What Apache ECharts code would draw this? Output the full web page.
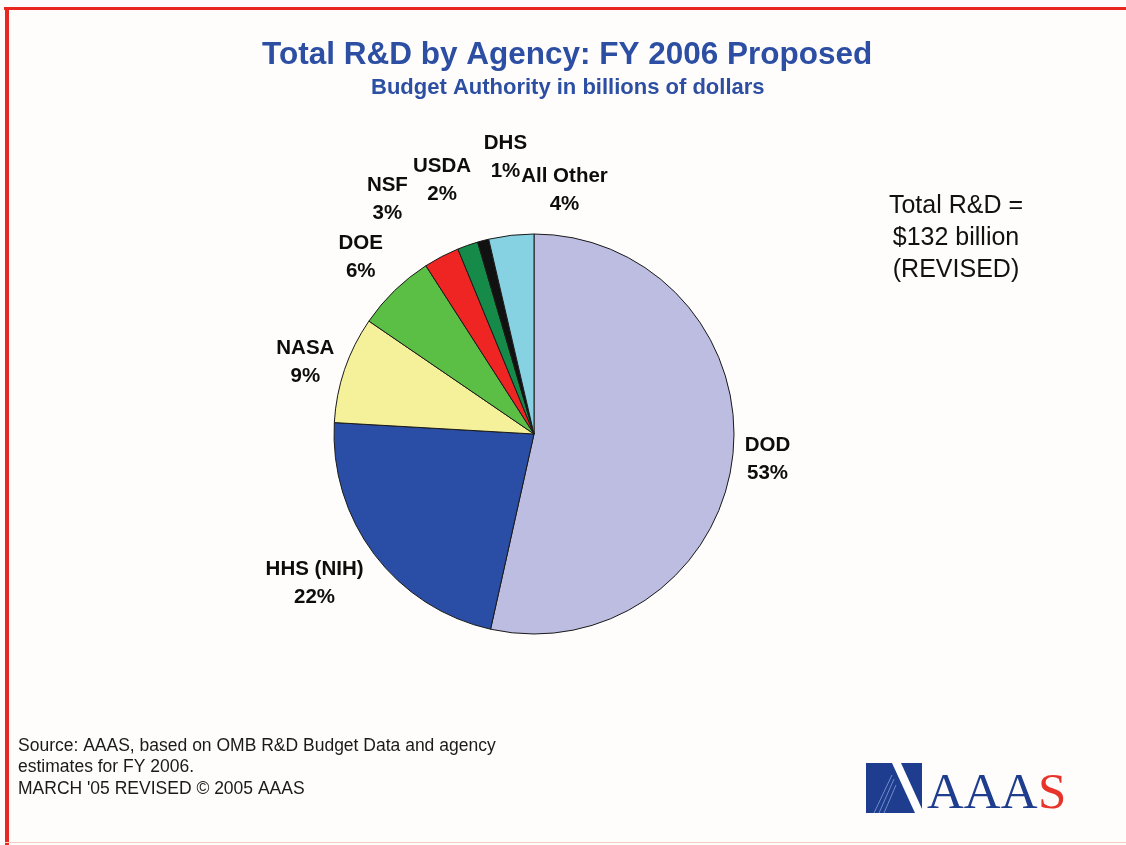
<!DOCTYPE html>
<html>
<head>
<meta charset="utf-8">
<script src="https://cdn.jsdelivr.net/npm/echarts@6/dist/echarts.min.js"></script>
<style>
  html, body { margin: 0; padding: 0; background: #fffdfb; }
  #chart { width: 1126px; height: 845px; }
</style>
</head>
<body>
<div id="chart"></div>
<script>
// ---- data (billions of dollars, FY 2006 proposed) ----
const agencies = ['DOD', 'HHS (NIH)', 'NASA', 'DOE', 'NSF', 'USDA', 'DHS', 'All Other'];
const budgets  = [70.6, 29.6, 11.4, 8.4, 3.8, 2.2, 1.2, 4.8];
const sliceColors = ['#bcbde0', '#2a4ea5', '#f5f09a', '#5bbf46', '#ee2522', '#168a48', '#111111', '#86d2e2'];
// label nudges (px) away from the default label ring position
const labelNudges = [[-15, -2], [-20, -1], [8, 9], [1, 3], [-31, -13], [-9, -18], [35, -35], [59, 5]];
const titleText = 'Total R&D by Agency: FY 2006 Proposed';
const subtitleText = 'Budget Authority in billions of dollars';
const totalNote = ['Total R&D =', '$132 billion', '(REVISED)'];
const sourceNote = ['Source: AAAS, based on OMB R&D Budget Data and agency', 'estimates for FY 2006.', "MARCH '05 REVISED \u00A9 2005 AAAS"];

const total = budgets.reduce((a, b) => a + b, 0);
const FONT = 'Arial, "Liberation Sans", sans-serif';
const SERIF = '"Liberation Serif", "Times New Roman", serif';

const chart = echarts.init(document.getElementById('chart'), null, { renderer: 'canvas' });

const pieData = agencies.map((name, i) => ({
  name, value: budgets[i], itemStyle: { color: sliceColors[i] }
}));

// label anchors: mid-angle of each slice in data units, placed on an outer ring via polar axes
let acc = 0;
const labelPoints = agencies.map((name, i) => {
  const mid = acc + budgets[i] / 2;
  acc += budgets[i];
  return {
    name,
    value: [1, mid],
    label: { offset: labelNudges[i] },
    pct: Math.round(budgets[i] / total * 100)
  };
});

const option = {
  backgroundColor: '#fffdfb',
  animation: false,
  title: [
    {
      text: titleText,
      left: 257,
      top: 34,
      textStyle: { fontFamily: FONT, fontWeight: 'bold', fontSize: 31.5, color: '#2c4ea3' }
    },
    {
      text: subtitleText,
      left: 366,
      top: 72,
      textStyle: { fontFamily: FONT, fontWeight: 'bold', fontSize: 22, color: '#2c4ea3' }
    }
  ],
  polar: { center: [534, 434], radius: 250 },
  angleAxis: { type: 'value', min: 0, max: total, startAngle: 90, clockwise: true, show: false },
  radiusAxis: { type: 'value', min: 0, max: 1, show: false },
  series: [
    {
      type: 'pie',
      center: [534, 434],
      radius: 200,
      startAngle: 90,
      clockwise: true,
      silent: true,
      label: { show: false },
      labelLine: { show: false },
      itemStyle: { borderColor: '#1a1a1a', borderWidth: 1 },
      data: pieData
    },
    {
      type: 'scatter',
      coordinateSystem: 'polar',
      silent: true,
      clip: false,
      symbolSize: 1,
      itemStyle: { color: 'rgba(0,0,0,0)', opacity: 1 },
      label: {
        show: true,
        position: 'inside',
        fontFamily: FONT,
        fontWeight: 'bold',
        fontSize: 20.5,
        lineHeight: 28,
        color: '#0d0d0d',
        opacity: 1,
        align: 'center',
        verticalAlign: 'middle',
        formatter: p => p.name + '\n' + labelPoints[p.dataIndex].pct + '%'
      },
      data: labelPoints.map(d => ({ name: d.name, value: d.value, label: d.label }))
    }
  ],
  graphic: [
    // red frame
    { type: 'rect', shape: { x: 4, y: 7, width: 1122, height: 3 }, style: { fill: '#e8281e' }, silent: true },
    { type: 'rect', shape: { x: 5, y: 7, width: 4, height: 838 }, style: { fill: '#e8281e' }, silent: true },
    { type: 'rect', shape: { x: 5, y: 842, width: 1121, height: 1 }, style: { fill: '#f6c9c2' }, silent: true },
    // total note
    {
      type: 'text', x: 956, y: 190,
      style: {
        text: totalNote.join('\n'), fontFamily: FONT, fontSize: 25,
        lineHeight: 32, fill: '#111', align: 'center', verticalAlign: 'top'
      }
    },
    // source note
    {
      type: 'text', x: 18, y: 735,
      style: {
        text: sourceNote.join('\n'), fontFamily: FONT, fontSize: 17.5,
        lineHeight: 21.5, fill: '#1a1a1a', verticalAlign: 'top'
      }
    },
    // AAAS logo
    {
      type: 'group', x: 866, y: 763,
      children: [
        { type: 'rect', shape: { x: 0, y: 0, width: 56, height: 50 }, style: { fill: '#1f3d8f' } },
        { type: 'polygon', shape: { points: [[26, 0], [35, 0], [56, 46], [56, 50], [49, 50]] }, style: { fill: '#ffffff' } },
        { type: 'line', shape: { x1: 8, y1: 50, x2: 26, y2: 12 }, style: { stroke: '#6f8cc8', lineWidth: 1 } },
        { type: 'line', shape: { x1: 13, y1: 50, x2: 28, y2: 16 }, style: { stroke: '#6f8cc8', lineWidth: 1 } },
        { type: 'line', shape: { x1: 18, y1: 50, x2: 30, y2: 22 }, style: { stroke: '#6f8cc8', lineWidth: 1 } },
        {
          type: 'text', x: 61, y: 57,
          style: { text: 'AAA', fontFamily: SERIF, fontSize: 51, fill: '#1f3d8f', verticalAlign: 'bottom' }
        },
        {
          type: 'text', x: 172, y: 57,
          style: { text: 'S', fontFamily: SERIF, fontSize: 51, fill: '#e8332a', verticalAlign: 'bottom' }
        }
      ]
    }
  ]
};
chart.setOption(option);
</script>
</body>
</html>
